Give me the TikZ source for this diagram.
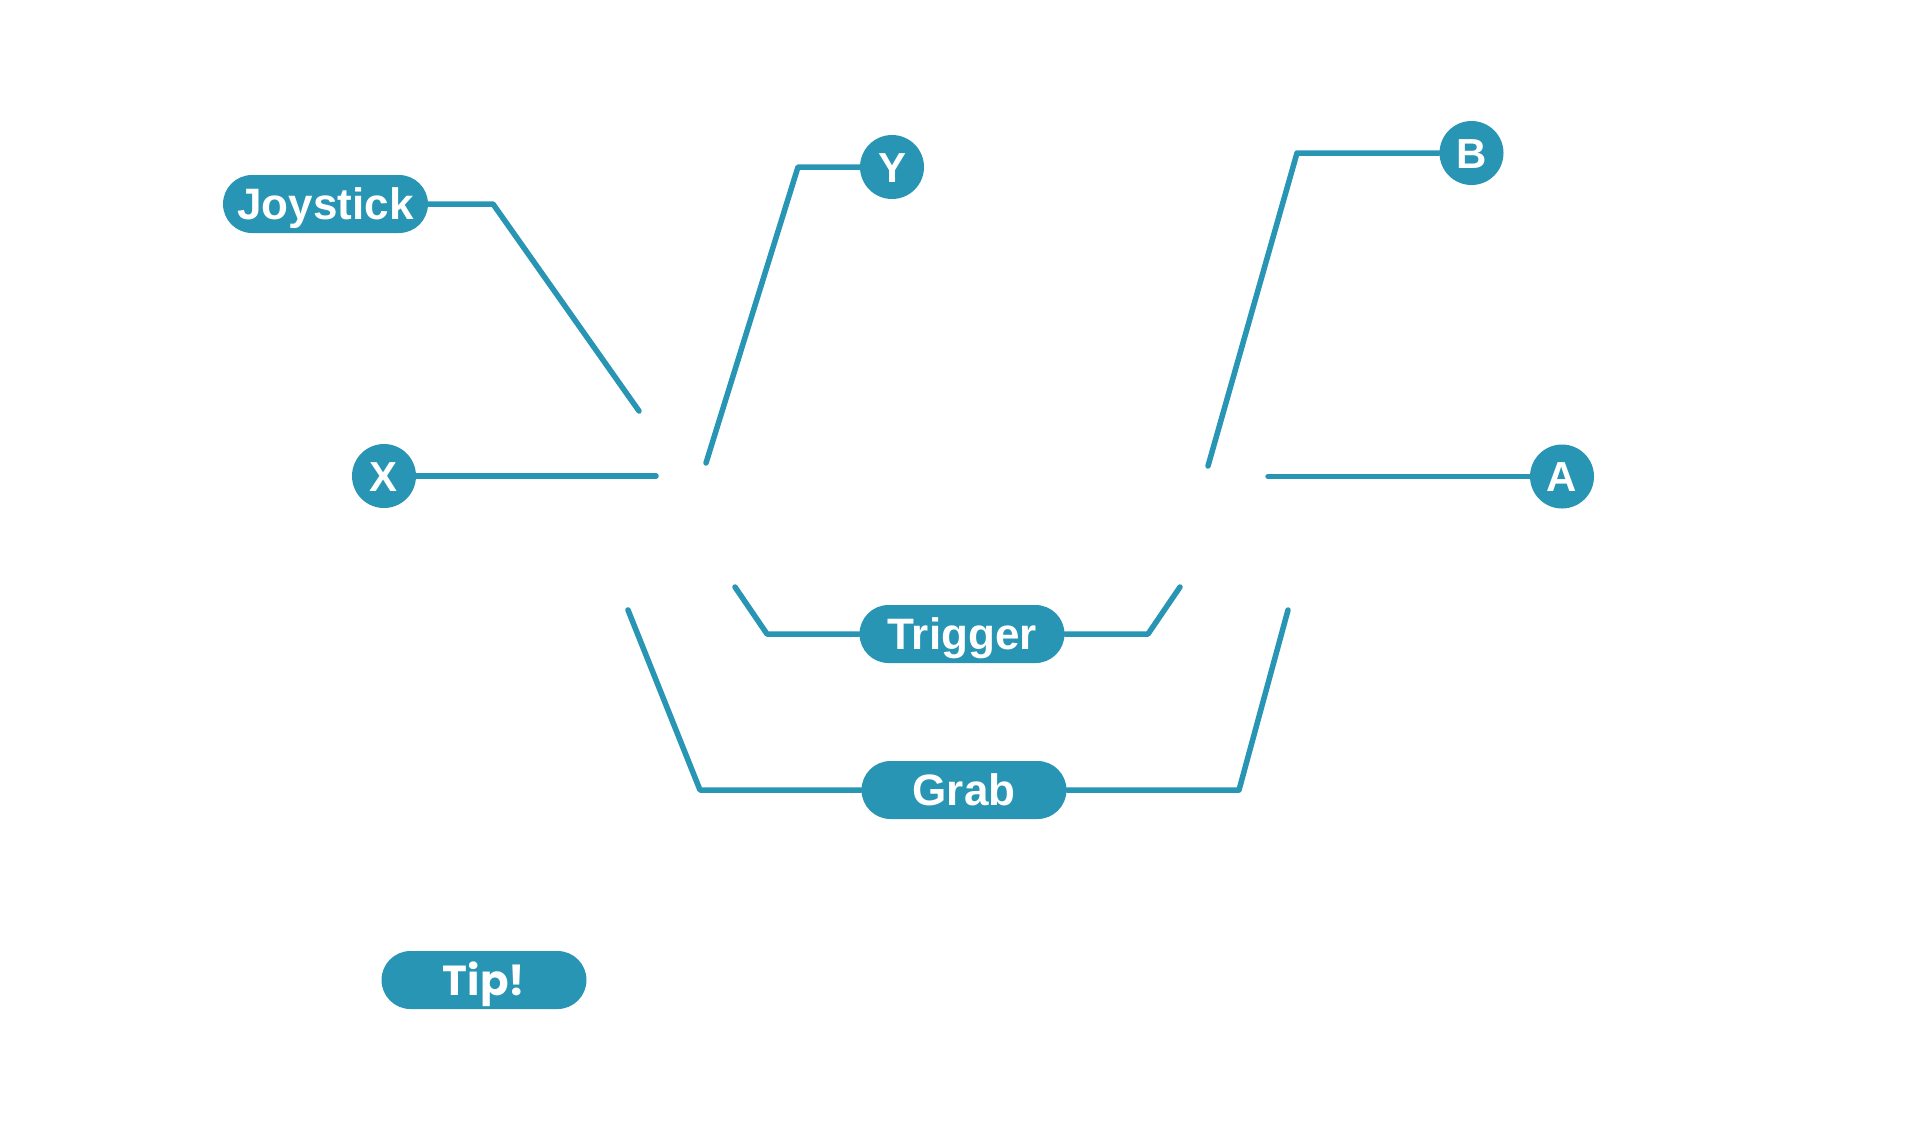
\documentclass[tikz,border=0pt]{standalone}
\usepackage{fontspec}
\setmainfont{Liberation Sans}
\newfontfamily\tipfont{Poppins}
\definecolor{teal}{HTML}{2795B3}
\tikzset{
  pill/.style={fill=teal, text=white, rectangle, rounded corners=14.5pt,
    minimum width=102.5pt, minimum height=29pt, inner sep=0pt,
    text height=15.7pt, text depth=0pt,
    font=\fontsize{22}{24}\selectfont\bfseries},
  btn/.style={fill=teal, text=white, circle, minimum size=32pt, inner sep=0pt,
    text height=15pt, text depth=0pt,
    font=\fontsize{21}{24}\selectfont\bfseries},
  wire/.style={draw=teal, line width=2.75pt, line cap=round, line join=round}
}
\begin{document}
\begin{tikzpicture}[x=0.5pt,y=-0.5pt]
\useasboundingbox (0,0) rectangle (1921,1121);
% nodes
\node[pill] (joy) at (325.5,204) {Joystick};
\node[btn] (xb) at (384,476) {X};
\node[btn] (yb) at (892,167) {Y};
\node[btn] (bb) at (1471.5,153) {B};
\node[btn] (ab) at (1562,476.5) {A};
\node[pill] (trig) at (962,634) {Trigger};
\node[pill] (grab) at (964,790) {Grab};
\node[pill, font=\tipfont\fontsize{21}{24}\selectfont\bfseries, text height=15pt] (tip) at (484,980) {Tip!};
% free ends
\coordinate (jc) at (493,204);
\coordinate (je) at (639,411);
\coordinate (xe) at (656,476);
\coordinate (yc) at (798,167);
\coordinate (ye) at (706,463);
\coordinate (bc) at (1297,153);
\coordinate (be) at (1208,466);
\coordinate (ae) at (1268,476.5);
\coordinate (tlc) at (767,634);
\coordinate (tle) at (735,587);
\coordinate (trc) at (1148,634);
\coordinate (tre) at (1180,587);
\coordinate (glc) at (700,790);
\coordinate (gle) at (628,610);
\coordinate (grc) at (1239,790);
\coordinate (gre) at (1288,610);
% connectors
\draw[wire] (joy.east) -- (jc) -- (je);
\draw[wire] (xb.east) -- (xe);
\draw[wire] (yb.west) -- (yc) -- (ye);
\draw[wire] (bb.west) -- (bc) -- (be);
\draw[wire] (ab.west) -- (ae);
\draw[wire] (trig.west) -- (tlc) -- (tle);
\draw[wire] (trig.east) -- (trc) -- (tre);
\draw[wire] (grab.west) -- (glc) -- (gle);
\draw[wire] (grab.east) -- (grc) -- (gre);
\end{tikzpicture}
\end{document}
